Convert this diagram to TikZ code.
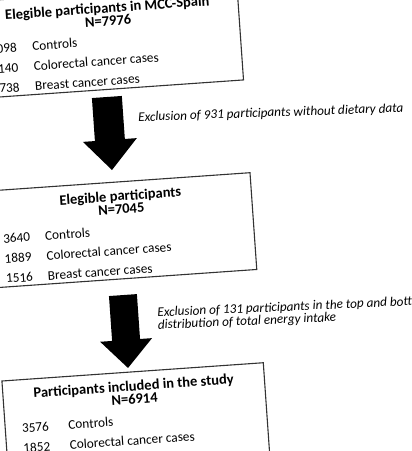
\documentclass[tikz,border=0pt]{standalone}
\usepackage{fontspec}
\setmainfont{Carlito}
\begin{document}
\begin{tikzpicture}[x=1pt,y=1pt,
  box/.style={draw=black!80, line width=1.1pt, minimum width=262pt, minimum height=97pt, inner sep=0pt},
  ttl/.style={anchor=base, inner sep=0pt, font=\bfseries\fontsize{14.5}{15}\selectfont},
  row/.style={anchor=base west, inner sep=0pt, font=\fontsize{13.3}{14}\selectfont},
  excl/.style={inner sep=0pt, align=left, font=\itshape\fontsize{13.2}{12.5}\selectfont},
  blk/.style={fill=black, draw=none}]
\useasboundingbox (0,0) rectangle (412,-451);
\clip (0,0) rectangle (412,-451);
\fill[white] (0,0) rectangle (412,-451);
\begin{scope}[shift={(250,-172.7)}, rotate=4, transform shape]
  % box 1
  \node[box] (b1) at (-131,141.5) {};
  \node[ttl] (t1) at (-131,169.5) {Elegible participants in MCC-Spain};
  \node[ttl] (n1) at (-131,156.5) {N=7976};
  \node[row] (b1r1n) at (-251,137) {4098};
  \node[row] (b1r1l) at (-208.5,137) {Controls};
  \node[row] (b1r2n) at (-251,117) {2140};
  \node[row] (b1r2l) at (-208.5,117) {Colorectal cancer cases};
  \node[row] (b1r3n) at (-251,97) {1738};
  \node[row] (b1r3l) at (-208.5,97) {Breast cancer cases};
  % box 2
  \node[box] (b2) at (-131,-48.5) {};
  \node[ttl] (t2) at (-131,-19) {Elegible participants};
  \node[ttl] (n2) at (-131,-32) {N=7045};
  \node[row] (b2r1n) at (-251,-53) {3640};
  \node[row] (b2r1l) at (-209,-53) {Controls};
  \node[row] (b2r2n) at (-251,-73) {1889};
  \node[row] (b2r2l) at (-209,-73) {Colorectal cancer cases};
  \node[row] (b2r3n) at (-251,-93) {1516};
  \node[row] (b2r3l) at (-209,-93) {Breast cancer cases};
  % box 3
  \node[box] (b3) at (-131,-239) {};
  \node[ttl] (t3) at (-131,-209.5) {Participants included in the study};
  \node[ttl] (n3) at (-131,-222.5) {N=6914};
  \node[row] (b3r1n) at (-245.5,-243.5) {3576};
  \node[row] (b3r1l) at (-199,-243.5) {Controls};
  \node[row] (b3r2n) at (-245.5,-263.5) {1852};
  \node[row] (b3r2l) at (-199,-263.5) {Colorectal cancer cases};
  % arrows
  \fill[blk] (-152.5,85.5) -- (-122.5,85.5) -- (-122.5,42.4) -- (-110.5,42.4) -- (-137.5,12.3) -- (-164.5,42.4) -- (-152.5,42.4) -- cycle;
  \fill[blk] (-149.3,-113.2) -- (-121.3,-113.2) -- (-121.3,-158.2) -- (-109.3,-158.2) -- (-135.3,-186.3) -- (-161.3,-158.2) -- (-149.3,-158.2) -- cycle;
\end{scope}
\node[excl, anchor=west, rotate=2] (e1) at (138,-118) {Exclusion of 931 participants without dietary data};
\node[excl, anchor=west, rotate=2.5] (e2) at (157.5,-319.5) {Exclusion of 131 participants in the top and bottom\\distribution of total energy intake};
\end{tikzpicture}
\end{document}
